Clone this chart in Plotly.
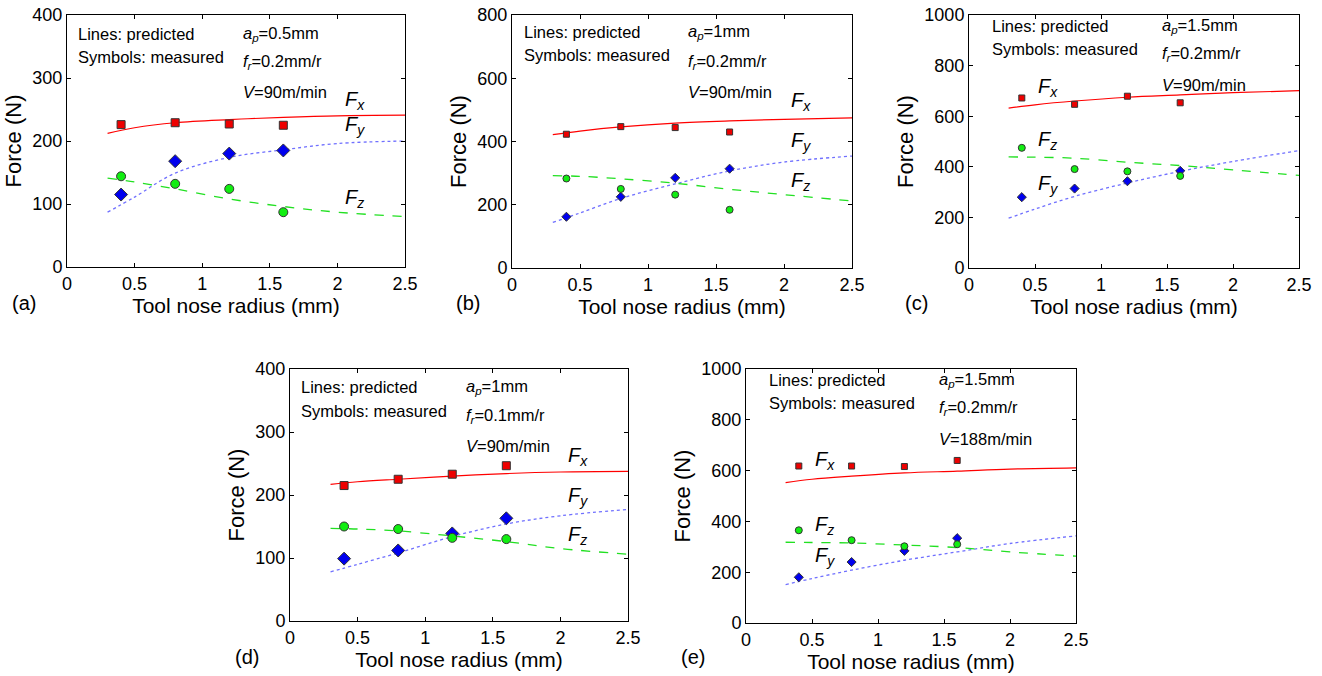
import plotly.graph_objects as go

# -----------------------------------------------------------------------------
# Data
# -----------------------------------------------------------------------------
r_meas = [0.4, 0.8, 1.2, 1.6]
r_pred = [0.3, 0.5, 0.8, 1.2, 1.6, 2.0, 2.5]

# (a) ap=0.5mm, fr=0.2mm/r, V=90m/min
a_fx_meas = [226, 229, 227, 225]
a_fy_meas = [115, 168, 180, 185]
a_fz_meas = [144, 132, 124, 87]
a_fx_pred = [212, 221, 229, 234, 237.5, 240, 241]
a_fy_pred = [87, 111, 149, 174, 186, 196, 200]
a_fz_pred = [141, 135, 124, 108, 96, 87, 80]

# (b) ap=1mm, fr=0.2mm/r, V=90m/min
b_fx_meas = [423, 447, 444, 430]
b_fy_meas = [162, 225, 285, 314]
b_fz_meas = [283, 250, 232, 184]
b_fx_pred = [422, 433, 446, 458, 465, 470, 475]
b_fy_pred = [144, 174, 220, 266, 307, 335, 354]
b_fz_pred = [292, 290, 282, 268, 249, 232, 212]

# (c) ap=1.5mm, fr=0.2mm/r, V=90m/min
c_fx_meas = [672, 647, 679, 653]
c_fy_meas = [280, 314, 343, 384]
c_fz_meas = [475, 391, 382, 364]
c_fx_pred = [632, 645, 660, 675, 684, 693, 701]
c_fy_pred = [197, 233, 283, 336, 382, 421, 464]
c_fz_pred = [439, 438, 434, 418, 405, 388, 366]

# (d) ap=1mm, fr=0.1mm/r, V=90m/min
d_fx_meas = [215, 225, 233, 246.5]
d_fy_meas = [99, 112, 139, 163]
d_fz_meas = [150, 146, 132, 130]
d_fx_pred = [217, 221, 225, 230, 234, 236.5, 237.5]
d_fy_pred = [78, 90, 108, 134, 154, 167, 177]
d_fz_pred = [147, 146, 143, 135, 126, 115, 106]

# (e) ap=1.5mm, fr=0.2mm/r, V=188m/min
e_fx_meas = [618, 618, 616, 640]
e_fy_meas = [180, 240, 284, 334]
e_fz_meas = [365, 326, 302, 310]
e_fx_pred = [553, 566, 578, 591, 598, 606, 611]
e_fy_pred = [151, 175, 208, 247, 280, 313, 343]
e_fz_pred = [318, 317, 315, 307, 297, 280, 263]

ap_labels = ["0.5mm", "1mm", "1.5mm", "1mm", "1.5mm"]
fr_labels = ["0.2mm/r", "0.2mm/r", "0.2mm/r", "0.1mm/r", "0.2mm/r"]
v_labels = ["90m/min", "90m/min", "90m/min", "90m/min", "188m/min"]
panel_tags = ["(a)", "(b)", "(c)", "(d)", "(e)"]
y_max = [400, 800, 1000, 400, 1000]
y_step = [100, 200, 200, 100, 200]

# -----------------------------------------------------------------------------
# Layout helpers (pixel boxes of each plot area in the 1322x676 page)
# -----------------------------------------------------------------------------
W, H = 1322, 676
FONT = "Liberation Sans, Arial, Helvetica, sans-serif"


def px_x(v):
    return v / W


def px_y(v):
    return 1 - v / H


panels = [
    dict(box=(67, 405, 15, 267), fx=a_fx_meas, fy=a_fy_meas, fz=a_fz_meas,
         px=a_fx_pred, py=a_fy_pred, pz=a_fz_pred, msz=(8, 10, 9),
         text_x=(0.07, 1.29), lab_x=2.04, lab_y=(264, 225, 108),
         txt_y=(370, 333, 370, 325, 277), tag_xy=(24, 303)),
    dict(box=(512, 852, 15, 268), fx=b_fx_meas, fy=b_fy_meas, fz=b_fz_meas,
         px=b_fx_pred, py=b_fy_pred, pz=b_fz_pred, msz=(6, 7, 7),
         text_x=(0.07, 1.28), lab_x=2.04, lab_y=(526, 400, 274),
         txt_y=(745, 672, 745, 652, 558), tag_xy=(468, 303)),
    dict(box=(969, 1299, 15, 268), fx=c_fx_meas, fy=c_fy_meas, fz=c_fz_meas,
         px=c_fx_pred, py=c_fy_pred, pz=c_fz_pred, msz=(6, 7, 7),
         text_x=(0.16, 1.45), lab_x=0.51, lab_y=(714, 329, 504),
         txt_y=(958, 866, 958, 846, 724), tag_xy=(916, 303)),
    dict(box=(290, 628, 369, 621), fx=d_fx_meas, fy=d_fy_meas, fz=d_fz_meas,
         px=d_fx_pred, py=d_fy_pred, pz=d_fz_pred, msz=(8, 10, 9),
         text_x=(0.07, 1.29), lab_x=2.04, lab_y=(261, 197, 136),
         txt_y=(371, 334, 371, 325, 277), tag_xy=(247, 657)),
    dict(box=(746, 1076, 369, 623), fx=e_fx_meas, fy=e_fy_meas, fz=e_fz_meas,
         px=e_fx_pred, py=e_fy_pred, pz=e_fz_pred, msz=(6, 7, 7),
         text_x=(0.16, 1.45), lab_x=0.51, lab_y=(639, 263, 385),
         txt_y=(957, 865, 957, 845, 724), tag_xy=(693, 657)),
]

fig = go.Figure()
annotations = []
layout_axes = {}

for i, p in enumerate(panels):
    n = "" if i == 0 else str(i + 1)
    xref, yref = "x" + n, "y" + n
    x0, x1, y0, y1 = p["box"]

    # predicted lines
    fig.add_trace(go.Scatter(x=r_pred, y=p["px"], mode="lines", line_shape="spline",
                             line=dict(color="#ff0000", width=1.2),
                             xaxis=xref, yaxis=yref, showlegend=False))
    fig.add_trace(go.Scatter(x=r_pred, y=p["py"], mode="lines", line_shape="spline",
                             line=dict(color="#7070ff", width=1.3, dash="dot"),
                             xaxis=xref, yaxis=yref, showlegend=False))
    fig.add_trace(go.Scatter(x=r_pred, y=p["pz"], mode="lines", line_shape="spline",
                             line=dict(color="#22e022", width=1.3, dash="dash"),
                             xaxis=xref, yaxis=yref, showlegend=False))

    # measured symbols
    sq, dm, ci = p["msz"]
    fig.add_trace(go.Scatter(x=r_meas, y=p["fx"], mode="markers",
                             marker=dict(symbol="square", size=sq, color="#ee0000",
                                         line=dict(color="#333333", width=1)),
                             xaxis=xref, yaxis=yref, showlegend=False))
    fig.add_trace(go.Scatter(x=r_meas, y=p["fy"], mode="markers",
                             marker=dict(symbol="diamond", size=dm, color="#0000ee",
                                         line=dict(color="#333333", width=1)),
                             xaxis=xref, yaxis=yref, showlegend=False))
    fig.add_trace(go.Scatter(x=r_meas, y=p["fz"], mode="markers",
                             marker=dict(symbol="circle", size=ci, color="#11ee11",
                                         line=dict(color="#333333", width=1)),
                             xaxis=xref, yaxis=yref, showlegend=False))

    axis_common = dict(showline=True, mirror="ticks", linecolor="black", linewidth=1,
                       ticks="inside", ticklen=4, tickcolor="black", showgrid=False,
                       zeroline=False, automargin=False,
                       tickfont=dict(family=FONT, size=18, color="black"))
    layout_axes["xaxis" + n] = dict(
        domain=[px_x(x0), px_x(x1)], anchor=yref, range=[0, 2.5],
        tickvals=[0, 0.5, 1, 1.5, 2, 2.5], ticktext=["0", "0.5", "1", "1.5", "2", "2.5"],
        title=dict(text="Tool nose radius (mm)", standoff=4,
                   font=dict(family=FONT, size=21, color="black")),
        **axis_common)
    layout_axes["yaxis" + n] = dict(
        domain=[px_y(y1), px_y(y0)], anchor=xref, range=[0, y_max[i]],
        dtick=y_step[i],
        title=dict(text="Force (N)", standoff=4,
                   font=dict(family=FONT, size=22, color="black")),
        **axis_common)

    # in-plot texts
    tx1, tx2 = p["text_x"]
    ty = p["txt_y"]
    txt_font = dict(family=FONT, size=16.5, color="black")
    for x, y, t in [
        (tx1, ty[0], "Lines: predicted"),
        (tx1, ty[1], "Symbols: measured"),
        (tx2, ty[2], "<i>a</i><sub><i>p</i></sub>=" + ap_labels[i]),
        (tx2, ty[3], "<i>f</i><sub><i>r</i></sub>=" + fr_labels[i]),
        (tx2, ty[4], "<i>V</i>=" + v_labels[i]),
    ]:
        annotations.append(dict(x=x, y=y, xref=xref, yref=yref, text=t, showarrow=False,
                                xanchor="left", yanchor="middle", font=txt_font))

    lab_font = dict(family=FONT, size=20, color="black")
    for y, t in zip(p["lab_y"], ["x", "y", "z"]):
        annotations.append(dict(x=p["lab_x"], y=y, xref=xref, yref=yref,
                                text="<i>F</i><sub><i>" + t + "</i></sub>",
                                showarrow=False, xanchor="left", yanchor="middle",
                                font=lab_font))

    tx, tyy = p["tag_xy"]
    annotations.append(dict(x=px_x(tx), y=px_y(tyy), xref="paper", yref="paper",
                            text=panel_tags[i], showarrow=False, xanchor="center",
                            yanchor="middle", font=dict(family=FONT, size=20, color="black")))

fig.update_layout(
    width=W, height=H,
    margin=dict(l=0, r=0, t=0, b=0, pad=0, autoexpand=False),
    paper_bgcolor="white", plot_bgcolor="white",
    font=dict(family=FONT, color="black"),
    annotations=annotations,
    **layout_axes,
)

# drop the default 8px body margin so the figure sits at the page origin
fig.write_html("out.html", config={"displayModeBar": False},
               post_script="document.body.style.margin = '0';")
